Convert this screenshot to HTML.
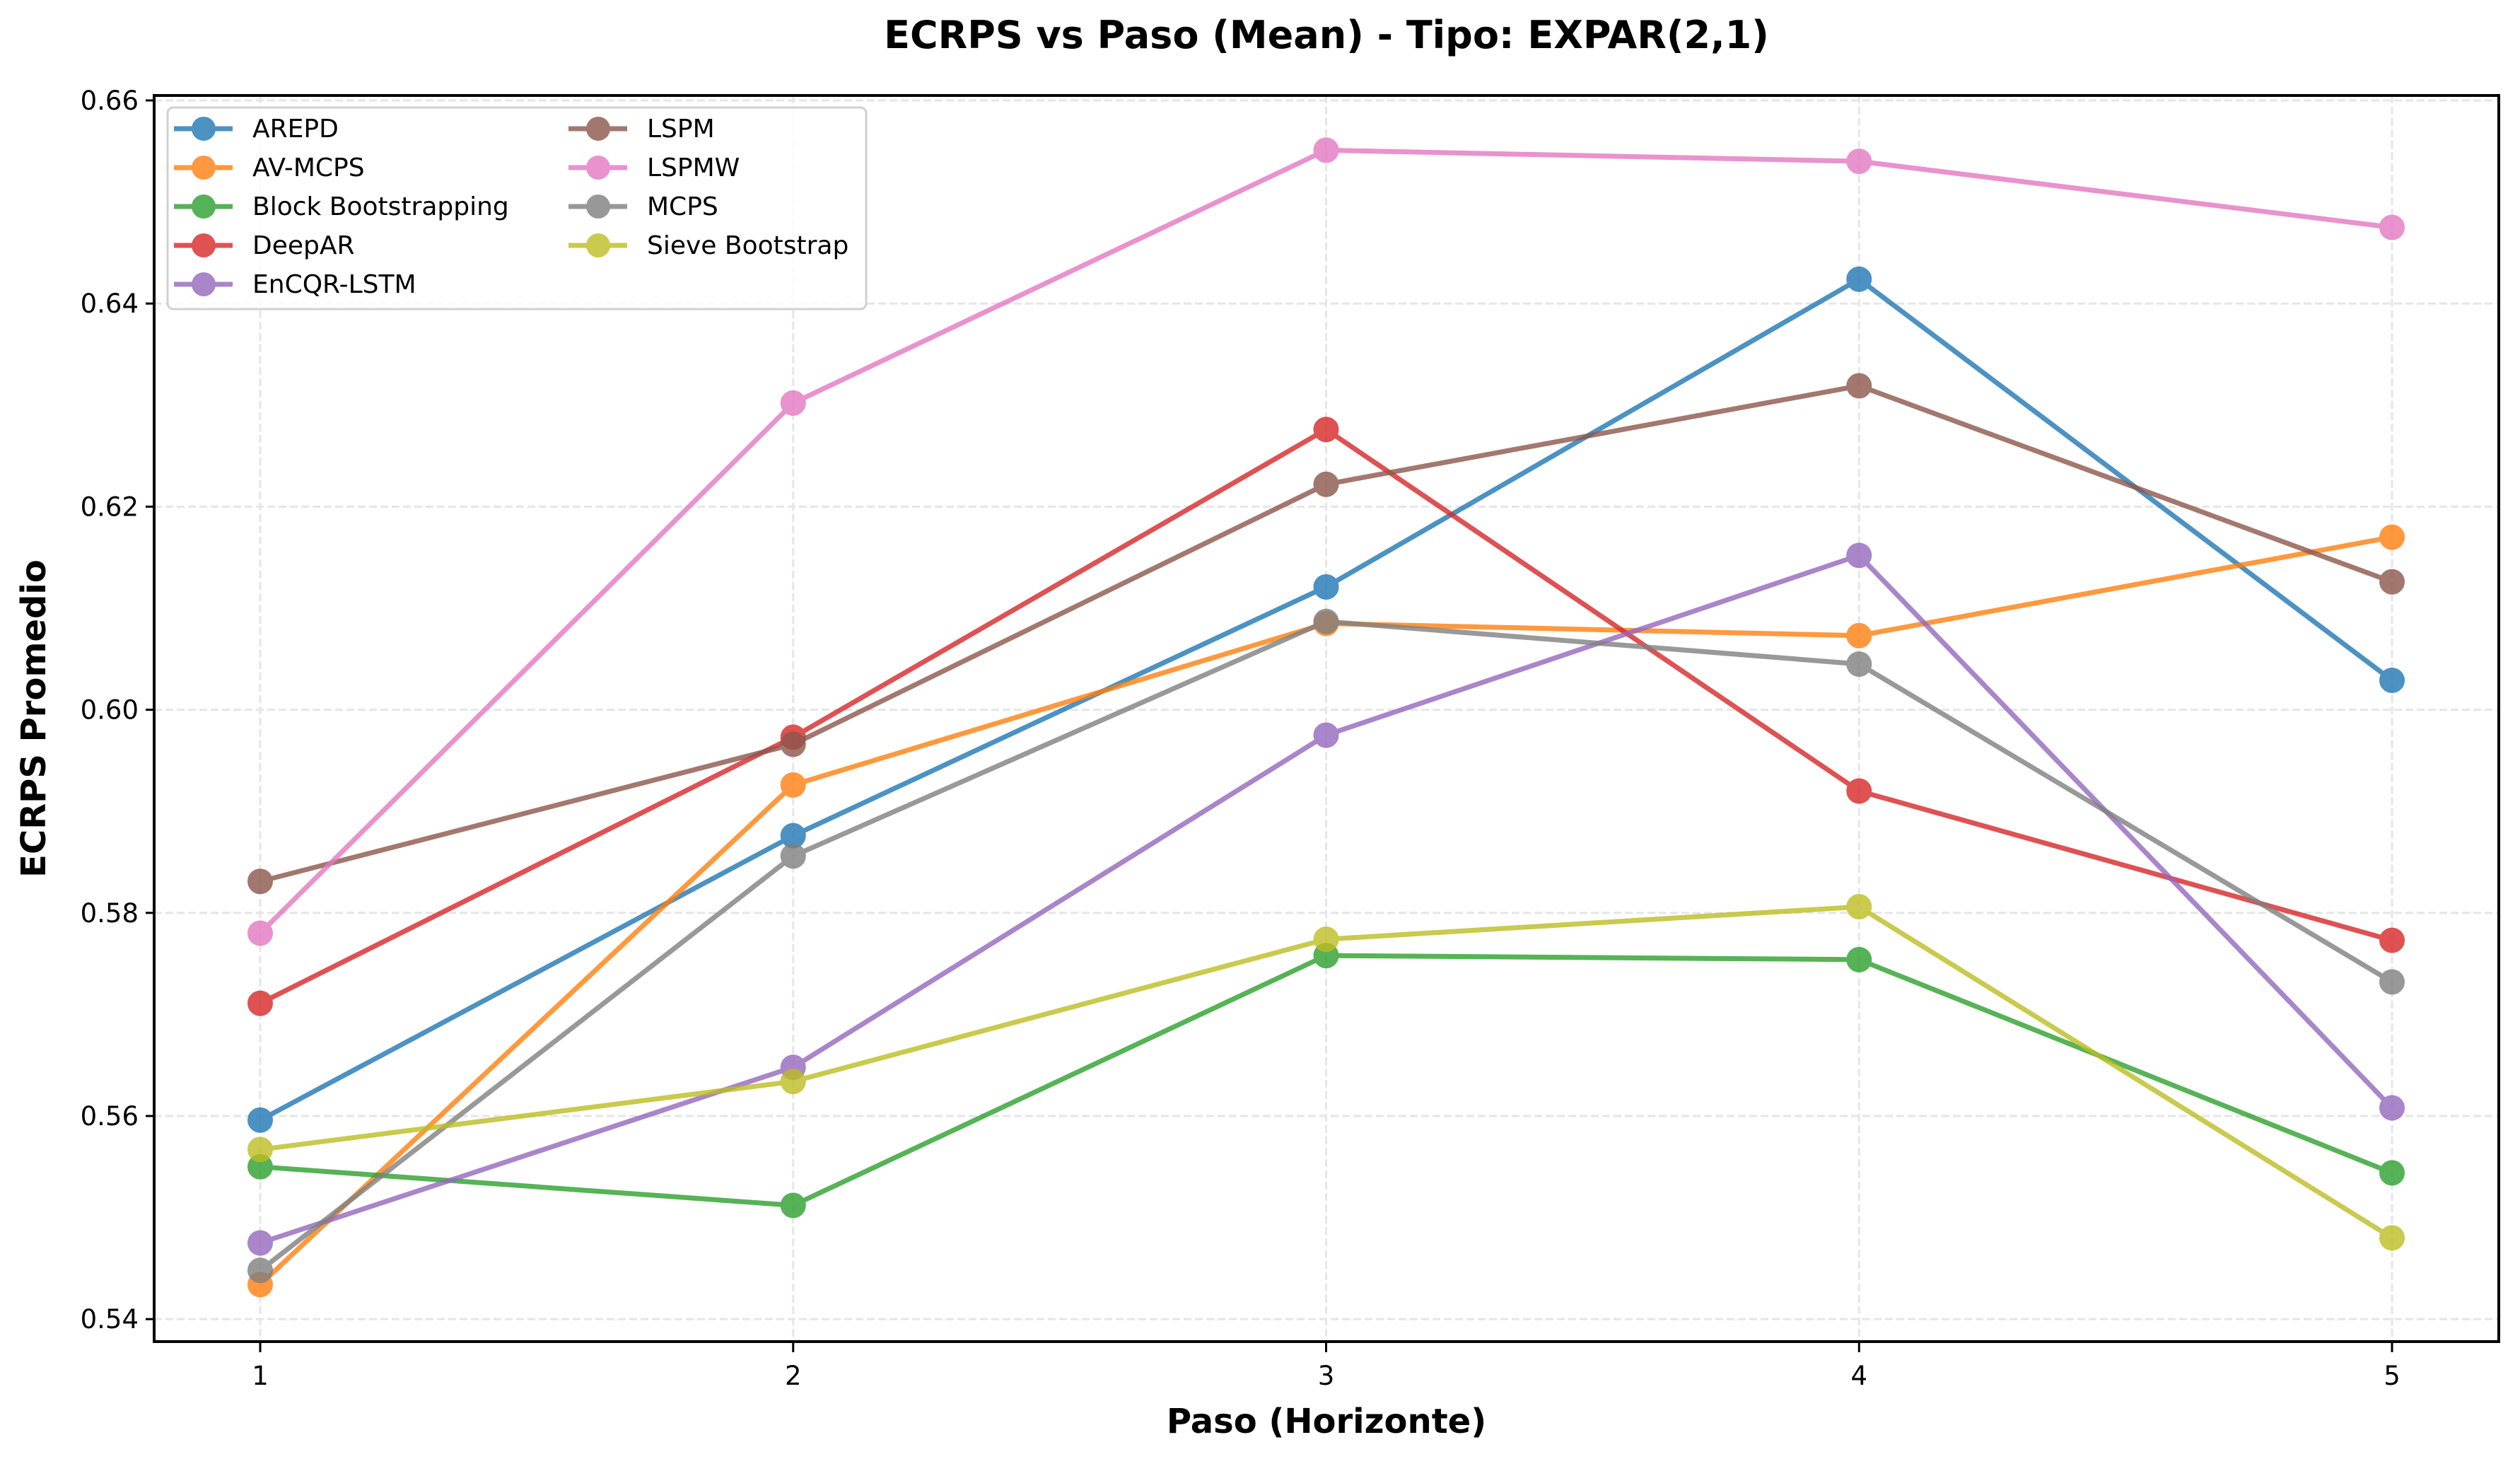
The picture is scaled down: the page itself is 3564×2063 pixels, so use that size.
<!DOCTYPE html>
<html><head><meta charset="utf-8"><style>html,body{margin:0;padding:0;background:#fff}svg{display:block;font-family:"DejaVu Sans","Liberation Sans",sans-serif}</style></head>
<body>
<svg id="chart" width="3564" height="2063" viewBox="0 0 3564 2063" xmlns="http://www.w3.org/2000/svg">
<rect x="0" y="0" width="3564" height="2063" fill="#fff"/>
<g id="grid"></g>
<g id="series"></g>
<rect x="218" y="135" width="3316" height="1762" fill="none" stroke="#000" stroke-width="4"/>
<g id="ticks"></g>
<text x="1876" y="68" text-anchor="middle" font-size="54" font-weight="bold">ECRPS vs Paso (Mean) - Tipo: EXPAR(2,1)</text>
<text x="1876" y="2026" text-anchor="middle" font-size="48" font-weight="bold">Paso (Horizonte)</text>
<text transform="translate(64,1016) rotate(-90)" text-anchor="middle" font-size="48" font-weight="bold">ECRPS Promedio</text>
<g id="legend"></g>
</svg>
<script>
const steps = [1, 2, 3, 4, 5];
const seriesNames = ["AREPD","AV-MCPS","Block Bootstrapping","DeepAR","EnCQR-LSTM","LSPM","LSPMW","MCPS","Sieve Bootstrap"];
const seriesColors = ["#1f77b4","#ff7f0e","#2ca02c","#d62728","#9467bd","#8c564b","#e377c2","#7f7f7f","#bcbd22"];
const arepd = [0.5596, 0.5876, 0.6121, 0.6424, 0.6029];
const avmcps = [0.5434, 0.5926, 0.6085, 0.6073, 0.6170];
const block = [0.5550, 0.5512, 0.5758, 0.5754, 0.5544];
const deepar = [0.5711, 0.5973, 0.6276, 0.5920, 0.5773];
const encqr = [0.5475, 0.5648, 0.5975, 0.6152, 0.5608];
const lspm = [0.5831, 0.5966, 0.6222, 0.6319, 0.6126];
const lspmw = [0.5780, 0.6302, 0.6551, 0.6540, 0.6475];
const mcps = [0.5448, 0.5856, 0.6087, 0.6045, 0.5732];
const sieve = [0.5567, 0.5634, 0.5774, 0.5806, 0.5480];
const yTicks = [0.54, 0.56, 0.58, 0.60, 0.62, 0.64, 0.66];
const yTickLabels = ["0.54","0.56","0.58","0.60","0.62","0.64","0.66"];
const xTickLabels = ["1","2","3","4","5"];

const allSeries = [arepd, avmcps, block, deepar, encqr, lspm, lspmw, mcps, sieve];
const NS = "http://www.w3.org/2000/svg";
function xS(v){ return 368 + (v - 1) * 753.75; }
function yS(v){ return 142 + (0.66 - v) / 0.02 * 287.2; }
function mk(tag, attrs, parent){ const e = document.createElementNS(NS, tag); for (const k in attrs) e.setAttribute(k, attrs[k]); parent.appendChild(e); return e; }

const grid = document.getElementById('grid');
const ticks = document.getElementById('ticks');
yTicks.forEach((t, i) => {
  const y = yS(t);
  const g = mk('line', {x1:218, x2:3534, y1:y, y2:y, stroke:'#e6e6e6', 'stroke-width':3, 'stroke-dasharray':'11,5'}, grid);
  
  
  const tk = mk('line', {x1:206, x2:218, y1:y, y2:y, stroke:'#000', 'stroke-width':3}, ticks);
  
  
  const lb = mk('text', {x:196, y:y + 13, 'text-anchor':'end', 'font-size':37}, ticks);
  lb.textContent = yTickLabels[i];
  
  
});
steps.forEach((s, i) => {
  const x = xS(s);
  const g = mk('line', {x1:x, x2:x, y1:135, y2:1897, stroke:'#e6e6e6', 'stroke-width':3, 'stroke-dasharray':'11,5'}, grid);
  
  
  const tk = mk('line', {x1:x, x2:x, y1:1897, y2:1912, stroke:'#000', 'stroke-width':3}, ticks);
  
  
  const lb = mk('text', {x:x, y:1958, 'text-anchor':'middle', 'font-size':37}, ticks);
  lb.textContent = xTickLabels[i];
  
  
});

const sg = document.getElementById('series');
allSeries.forEach((vals, si) => {
  const c = seriesColors[si];
  const g = mk('g', {opacity:0.8}, sg);
  
  
  const pts = vals.map((v, i) => xS(steps[i]) + ',' + yS(v)).join(' ');
  const pl = mk('polyline', {points:pts, fill:'none', stroke:c, 'stroke-width':7, 'stroke-linejoin':'round'}, g);
  
  
  vals.forEach((v, i) => {
    const p = mk('circle', {cx:xS(steps[i]), cy:yS(v), r:17, fill:c, stroke:c, 'stroke-width':2}, g);
    
    
  });
});

const lg = document.getElementById('legend');
const box = mk('rect', {x:237, y:152, width:988, height:285, rx:8, fill:'#fff', 'fill-opacity':0.8, stroke:'#d0d0d0', 'stroke-width':3}, lg);


seriesNames.forEach((n, i) => {
  const col = i < 5 ? 0 : 1;
  const row = i < 5 ? i : i - 5;
  const hx = col === 0 ? 246 : 804;
  const tx = col === 0 ? 357 : 915;
  const y = 182 + row * 55;
  const e = mk('g', {}, lg);
  
  
  const g2 = mk('g', {opacity:0.8}, e);
  mk('line', {x1:hx, x2:hx + 83, y1:y, y2:y, stroke:seriesColors[i], 'stroke-width':7}, g2);
  mk('circle', {cx:hx + 42, cy:y, r:17, fill:seriesColors[i]}, g2);
  const t = mk('text', {x:tx, y:y + 12, 'font-size':36}, e);
  t.textContent = n;
  
  
});
</script>
</body></html>
